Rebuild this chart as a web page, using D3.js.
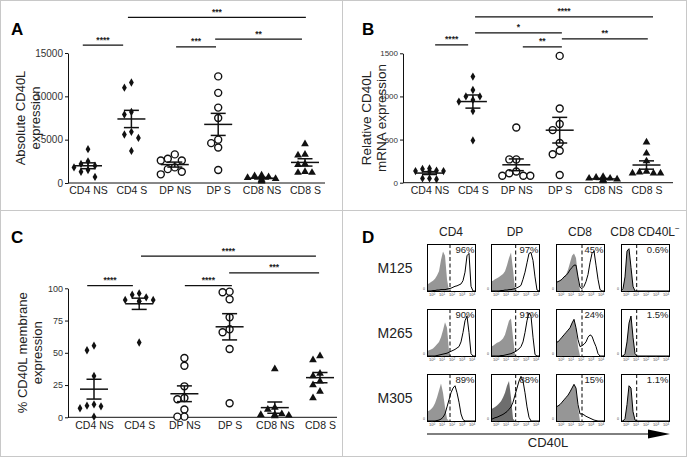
<!DOCTYPE html>
<html><head><meta charset="utf-8">
<script src="https://cdn.jsdelivr.net/npm/d3@7"></script>
<style>
html,body{margin:0;padding:0;background:#fff;}
svg{display:block;font-family:"Liberation Sans",Arial,sans-serif;}
</style></head>
<body>
<svg id="fig" width="687" height="457"></svg>
<script>
// ---------------- DATA ----------------
const categories = ["CD4 NS","CD4 S","DP NS","DP S","CD8 NS","CD8 S"];
const markerTypes = ["diamond","diamond","circle","circle","triangle","triangle"];

// Panel A: absolute CD40L expression
const absTicks = [0,5000,10000,15000];
const absCD4NS = [3900,2500,2200,2000,1800,1500,1300,700];
const absCD4S  = [11600,11000,8200,7900,5600,5900,5200,3700];
const absDPNS  = [3300,2600,2600,2800,1600,1000,1300,1800];
const absDPS   = [12300,10400,8700,7500,4600,5000,4100,1500];
const absCD8NS = [900,700,500,400,300,600,800,200];
const absCD8S  = [4500,3300,3200,2200,2100,1200,1200,1300];
// [from (category index), to (category index), label, height in axis units]
const absSig = [[-0.12,0.81,"****",15900],[0.92,5.02,"***",19100],[2.03,2.95,"***",15700],[2.93,4.93,"**",16600]];

// Panel B: relative CD40L mRNA expression
const mrnaTicks = [0,500,1000,1500];
const mrnaCD4NS = [165,140,130,135,135,160,50,40,50];
const mrnaCD4S  = [1230,1075,1000,1000,960,940,830,490];
const mrnaDPNS  = [640,270,270,130,80,80,80,110];
const mrnaDPS   = [1470,860,680,610,460,370,330,90];
const mrnaCD8NS = [60,50,40,30,20,50,70,30];
const mrnaCD8S  = [470,340,250,130,110,110,110,120];
const mrnaSig = [[0.13,0.89,"****",1597],[1.05,5.15,"****",1922],[1.05,3.05,"*",1737],[2.15,3.05,"**",1574],[3.05,5.03,"**",1667]];

// Panel C: % CD40L membrane expression
const memTicks = [0,25,50,75,100];
const memCD4NS = [55.5,52,32,9,8.5,7,10,0.5];
const memCD4S  = [96,95,93,91,90,91,90,58];
const memDPNS  = [46,40,24,15,14,6,0.5,0.5];
const memDPS   = [97.4,96.9,91.5,77.5,65.9,68.2,53,10.9];
const memCD8NS = [37.5,7.5,6,2.5,2,2,1.5,1];
const memCD8S  = [47.5,44.5,34,32,28,25,20,15];
const memSig = [[-0.15,0.86,"****",102],[1.04,4.91,"****",125],[2.01,3.05,"****",102],[2.99,4.98,"***",112]];

// Panel D: flow histograms (log10 CD40L bins, normalised counts)
const histBins = [-0.5,-0.3,-0.1,0.1,0.3,0.5,0.7,0.9,1.1,1.3,1.5,1.7,1.9,2.1,2.3,2.5,2.7,2.9,3.1,3.3,3.5,3.7,3.9,4.1,4.3];
const histCols = ["CD4","DP","CD8","CD8 CD40L"];
const histRows = ["M125","M265","M305"];
const histPct = [["96%","97%","45%","0.6%"],["90%","91%","24%","1.5%"],["89%","88%","15%","1.1%"]];
const histGate = [1.8,1.97,2.1,1.07];
const axisTicks = [0,1,2,3,4];
const ctrlM125 = [
 [0.14,0.16,0.19,0.22,0.26,0.33,0.42,0.66,0.84,0.75,0.25,0,0,0,0,0,0,0,0,0,0,0,0,0,0],
 [0.2,0.22,0.25,0.27,0.3,0.33,0.36,0.42,0.55,0.7,0.82,0.45,0.05,0,0,0,0,0,0,0,0,0,0,0,0],
 [0.18,0.2,0.22,0.25,0.3,0.35,0.45,0.6,0.75,0.8,0.7,0.3,0,0,0,0,0,0,0,0,0,0,0,0,0],
 [0,0.05,0.3,0.85,0.9,0.5,0.1,0,0,0,0,0,0,0,0,0,0,0,0,0,0,0,0,0,0]];
const stainM125 = [
 [0,0,0,0.01,0.01,0.02,0.02,0.03,0.03,0.03,0.04,0.05,0.06,0.08,0.1,0.11,0.13,0.15,0.22,0.4,0.75,0.8,0.1,0,0],
 [0,0,0,0,0,0.01,0.01,0.02,0.02,0.03,0.03,0.04,0.05,0.07,0.09,0.12,0.25,0.4,0.6,0.8,0.82,0.65,0.3,0.02,0],
 [0.18,0.2,0.22,0.25,0.3,0.33,0.38,0.45,0.5,0.55,0.55,0.3,0.08,0.05,0.1,0.2,0.35,0.6,0.8,0.85,0.55,0.25,0.03,0,0],
 [0,0.05,0.3,0.85,0.9,0.5,0.1,0,0,0,0,0,0,0,0,0,0,0,0,0,0,0,0,0,0]];
const ctrlM265 = [
 [0.1,0.12,0.14,0.16,0.2,0.25,0.3,0.4,0.55,0.72,0.6,0.1,0,0,0,0,0,0,0,0,0,0,0,0,0],
 [0.2,0.22,0.25,0.28,0.3,0.33,0.37,0.45,0.6,0.75,0.8,0.4,0.02,0,0,0,0,0,0,0,0,0,0,0,0],
 [0.3,0.3,0.35,0.4,0.45,0.5,0.55,0.6,0.7,0.78,0.6,0.2,0,0,0,0,0,0,0,0,0,0,0,0,0],
 [0,0,0.05,0.3,0.7,0.85,0.4,0.05,0,0,0,0,0,0,0,0,0,0,0,0,0,0,0,0,0]];
const stainM265 = [
 [0,0,0,0,0,0.01,0.02,0.03,0.04,0.05,0.06,0.08,0.1,0.12,0.14,0.17,0.2,0.3,0.5,0.75,0.85,0.5,0.05,0,0],
 [0,0,0,0,0,0.01,0.01,0.02,0.03,0.04,0.05,0.07,0.09,0.12,0.15,0.2,0.3,0.5,0.75,0.92,0.85,0.4,0.03,0,0],
 [0.3,0.3,0.35,0.4,0.45,0.5,0.55,0.6,0.7,0.78,0.6,0.35,0.2,0.22,0.25,0.3,0.4,0.45,0.42,0.3,0.2,0.05,0,0,0],
 [0,0,0.05,0.3,0.7,0.85,0.4,0.05,0,0,0,0,0,0,0,0,0,0,0,0,0,0,0,0,0]];
const ctrlM305 = [
 [0.2,0.22,0.25,0.3,0.38,0.5,0.65,0.8,0.6,0.3,0.05,0,0,0,0,0,0,0,0,0,0,0,0,0,0],
 [0.25,0.27,0.3,0.33,0.37,0.42,0.5,0.6,0.75,0.85,0.5,0.05,0,0,0,0,0,0,0,0,0,0,0,0,0],
 [0.3,0.32,0.35,0.4,0.45,0.5,0.55,0.62,0.7,0.78,0.7,0.3,0,0,0,0,0,0,0,0,0,0,0,0,0],
 [0,0,0.05,0.35,0.75,0.7,0.2,0.02,0,0,0,0,0,0,0,0,0,0,0,0,0,0,0,0,0]];
const stainM305 = [
 [0,0,0,0,0,0.01,0.02,0.04,0.08,0.15,0.3,0.45,0.6,0.7,0.75,0.6,0.4,0.15,0.03,0,0,0,0,0,0],
 [0.03,0.05,0.07,0.08,0.1,0.12,0.14,0.17,0.2,0.25,0.3,0.4,0.55,0.7,0.85,0.95,0.85,0.6,0.3,0.08,0,0,0,0,0],
 [0.3,0.32,0.35,0.4,0.45,0.5,0.55,0.62,0.7,0.78,0.7,0.35,0.15,0.15,0.13,0.1,0.08,0.06,0.04,0.02,0.01,0,0,0,0],
 [0,0,0.05,0.35,0.75,0.7,0.2,0.02,0,0,0,0,0,0,0,0,0,0,0,0,0,0,0,0,0]];

// ---------------- DRAW ----------------
const svg = d3.select("#fig");
const FONT = '"Liberation Sans",Arial,sans-serif';

svg.append("rect").attr("x",0.5).attr("y",0.5).attr("width",686).attr("height",456)
  .attr("fill","none").attr("stroke","#c8c8c8");
svg.append("line").attr("x1",342.5).attr("x2",342.5).attr("y1",0).attr("y2",457).attr("stroke","#c8c8c8");
svg.append("line").attr("x1",0).attr("x2",687).attr("y1",210.5).attr("y2",210.5).attr("stroke","#c8c8c8");

function scatterPanel(cfg){
  const g = svg.append("g");
  const x = d3.scalePoint().domain(categories).range(cfg.xr);
  const pos = d3.scaleLinear().domain([0,categories.length-1]).range(cfg.xr);
  const y = d3.scaleLinear().domain([0,cfg.ticks[cfg.ticks.length-1]]).range([cfg.yb,cfg.yt]);
  const ya = g.append("g").attr("transform",`translate(${cfg.ax0},0)`)
    .call(d3.axisLeft(y).tickValues(cfg.ticks).tickSize(3).tickPadding(2).tickSizeOuter(0).tickFormat(d3.format("d")));
  ya.selectAll("text").attr("font-size",cfg.yfs).attr("font-family",FONT).attr("fill","#333");
  ya.selectAll("line,path").attr("stroke","#111");
  const xa = g.append("g").attr("transform",`translate(0,${cfg.yb})`)
    .call(d3.axisBottom(x).tickSize(0).tickPadding(4).tickSizeOuter(0));
  xa.select(".domain").attr("d",`M${cfg.ax0},0H${cfg.ax1}`).attr("stroke","#111");
  xa.selectAll("text").attr("font-size",cfg.xfs).attr("font-family",FONT).attr("fill","#222");
  const t = g.append("text").attr("transform",`translate(${cfg.labX},${(cfg.yb+cfg.yt)/2}) rotate(-90)`)
    .attr("text-anchor","middle").attr("font-size",cfg.lfs).attr("font-family",FONT).attr("fill","#222");
  t.append("tspan").attr("x",0).attr("dy",0).text(cfg.label[0]);
  t.append("tspan").attr("x",0).attr("dy",cfg.lfs+1.5).text(cfg.label[1]);
  g.append("text").attr("x",cfg.letterX).attr("y",cfg.letterY).attr("font-size",17).attr("font-weight","bold")
    .attr("font-family",FONT).text(cfg.letter);
  cfg.series.forEach((vals,i)=>{
    const cx = x(categories[i]);
    const n = vals.length;
    const mean = d3.mean(vals);
    const sem = d3.deviation(vals)/Math.sqrt(n);
    const sorted = vals.map((v,k)=>({v,k})).sort((a,b)=>b.v-a.v);
    const offs = new Array(n).fill(0);
    const placed = [];
    sorted.forEach(o=>{
      const py = y(o.v);
      for(const dx of [0,-7,7,-14,14,-20,20]){
        if(placed.every(p=>Math.hypot(p.x-dx,p.y-py)>=7)){ offs[o.k]=dx; placed.push({x:dx,y:py}); break; }
      }
    });
    const type = markerTypes[i];
    vals.forEach((v,k)=>{
      const px = cx+offs[k], py=y(v);
      if(type==="circle"){
        g.append("circle").attr("cx",px).attr("cy",py).attr("r",3.5).attr("fill","#fff").attr("stroke","#111").attr("stroke-width",1.4);
      } else {
        const sym = type==="diamond"? d3.symbol(d3.symbolDiamond,20): d3.symbol(d3.symbolTriangle,26);
        g.append("path").attr("d",sym()).attr("transform",`translate(${px},${py})`).attr("fill","#111");
      }
    });
    const w = 14, cw = 7.5;
    const sl = (x1,x2,y1,y2)=>g.append("line").attr("x1",x1).attr("x2",x2).attr("y1",y1).attr("y2",y2).attr("stroke","#111").attr("stroke-width",1.5);
    sl(cx-w,cx+w,y(mean),y(mean));
    sl(cx-cw,cx+cw,y(mean+sem),y(mean+sem));
    sl(cx-cw,cx+cw,y(mean-sem),y(mean-sem));
    sl(cx,cx,y(mean+sem),y(mean-sem));
  });
  cfg.sig.forEach(([a,b,lab,lev])=>{
    const xs = pos(a), xe = pos(b), yy = y(lev);
    g.append("line").attr("x1",xs).attr("x2",xe).attr("y1",yy).attr("y2",yy).attr("stroke","#111").attr("stroke-width",1.3);
    g.append("text").attr("x",(xs+xe)/2).attr("y",yy-2.5).attr("text-anchor","middle")
      .attr("font-size",8.5).attr("font-weight","bold").attr("font-family",FONT).attr("fill","#222").text(lab);
  });
}

scatterPanel({ax0:68,ax1:325,xr:[88,305],yb:183,yt:53,ticks:absTicks,xfs:10.5,yfs:10,lfs:13,
  series:[absCD4NS,absCD4S,absDPNS,absDPS,absCD8NS,absCD8S],
  label:["Absolute CD40L","expression"],labX:25,letter:"A",letterX:11,letterY:35,sig:absSig});
scatterPanel({ax0:403,ax1:673,xr:[429.5,646.5],yb:182.7,yt:53.3,ticks:mrnaTicks,xfs:10.5,yfs:8,lfs:13.5,
  series:[mrnaCD4NS,mrnaCD4S,mrnaDPNS,mrnaDPS,mrnaCD8NS,mrnaCD8S],
  label:["Relative CD40L","mRNA expression"],labX:371,letter:"B",letterX:362,letterY:35,sig:mrnaSig});
scatterPanel({ax0:68,ax1:337,xr:[94,320],yb:417.3,yt:288.3,ticks:memTicks,xfs:10.5,yfs:9,lfs:13,
  series:[memCD4NS,memCD4S,memDPNS,memDPS,memCD8NS,memCD8S],
  label:["% CD40L membrane","expression"],labX:27,letter:"C",letterX:11,letterY:243,sig:memSig});

// ---------------- Panel D ----------------
const D = svg.append("g");
D.append("text").attr("x",362).attr("y",243).attr("font-size",17).attr("font-weight","bold").attr("font-family",FONT).text("D");
const colX = [427,491,556,621], rowY = [244,309,374], bw = 48, bh = 47;
const ctrl = [ctrlM125,ctrlM265,ctrlM305], stain=[stainM125,stainM265,stainM305];
histCols.forEach((c,j)=>{
  const t = D.append("text").attr("x",colX[j]+bw/2).attr("y",236).attr("text-anchor","middle")
    .attr("font-size",12).attr("font-family",FONT).attr("fill","#222").text(c);
  if(j===3) t.append("tspan").attr("dy",-5).attr("font-size",8).text("−");
});
histRows.forEach((r,i)=>{
  D.append("text").attr("x",395).attr("y",rowY[i]+bh/2+5).attr("text-anchor","middle")
    .attr("font-size",14).attr("font-family",FONT).attr("fill","#222").text(r);
  histCols.forEach((c,j)=>{
    const hx = d3.scaleLinear().domain([-0.5,4.3]).range([colX[j],colX[j]+bw]);
    const hy = d3.scaleLinear().domain([0,1]).range([rowY[i]+bh,rowY[i]]);
    const gd = ctrl[i][j].map((v,k)=>[histBins[k],v]);
    const sd = stain[i][j].map((v,k)=>[histBins[k],v]);
    const area = d3.area().x(d=>hx(d[0])).y0(hy(0)).y1(d=>hy(d[1]));
    const line = d3.line().x(d=>hx(d[0])).y(d=>hy(d[1]));
    D.append("path").attr("d",area(gd)).attr("fill",(i===2&&j===1)?"#6e6e6e":"#969696");
    D.append("path").attr("d",line(sd)).attr("fill","none").attr("stroke","#000").attr("stroke-width",1);
    D.append("line").attr("x1",hx(histGate[j])).attr("x2",hx(histGate[j])).attr("y1",rowY[i]).attr("y2",rowY[i]+bh)
      .attr("stroke","#000").attr("stroke-width",1).attr("stroke-dasharray","4,2.5");
    D.append("rect").attr("x",colX[j]+0.5).attr("y",rowY[i]+0.5).attr("width",bw).attr("height",bh)
      .attr("fill","none").attr("stroke","#000").attr("stroke-width",1);
    D.append("text").attr("x",colX[j]+bw-0.5).attr("y",rowY[i]+9).attr("text-anchor","end")
      .attr("font-size",9.5).attr("font-family",FONT).attr("fill","#222").text(histPct[i][j]);
    axisTicks.forEach(tk=>{
      const tt = D.append("text").attr("x",hx(tk)).attr("y",rowY[i]+bh+5).attr("text-anchor","middle")
        .attr("font-size",4).attr("font-family",FONT).attr("fill","#444").text("10");
      tt.append("tspan").attr("dy",-1.5).attr("font-size",3).text(tk);
      D.append("line").attr("x1",hx(tk)).attr("x2",hx(tk)).attr("y1",rowY[i]+bh).attr("y2",rowY[i]+bh+1.5).attr("stroke","#444").attr("stroke-width",0.5);
    });
    D.append("text").attr("x",colX[j]-2).attr("y",rowY[i]+bh-1).attr("text-anchor","end")
      .attr("font-size",3.5).attr("font-family",FONT).attr("fill","#444").text("0");
  });
});
D.append("line").attr("x1",427).attr("x2",652).attr("y1",434).attr("y2",434).attr("stroke","#000").attr("stroke-width",1);
D.append("path").attr("d","M648,429.5L670,434L648,438.5Z").attr("fill","#000");
D.append("text").attr("x",548).attr("y",447).attr("text-anchor","middle").attr("font-size",13)
  .attr("font-family",FONT).attr("fill","#222").text("CD40L");
</script>
</body></html>
